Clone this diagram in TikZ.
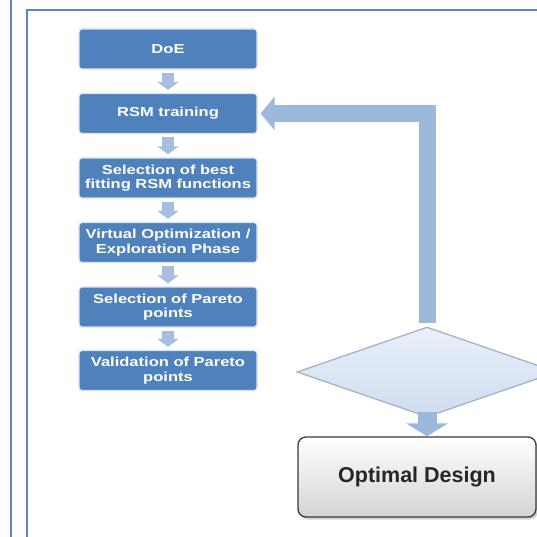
\documentclass[tikz,border=0pt]{standalone}
\usepackage{fontspec}
\setmainfont{Liberation Sans}
\newfontfamily\boxfont[FakeStretch=1.27]{Liberation Sans}
\usetikzlibrary{shapes.geometric,arrows.meta,shadows}
\definecolor{boxblue}{HTML}{4F81BD}
\definecolor{boxglow}{HTML}{DCE4EF}
\definecolor{arrblue}{HTML}{A7BFDF}
\definecolor{bigarr}{HTML}{9CB8DB}
\definecolor{frameblue}{HTML}{5E83C2}
\definecolor{diatop}{HTML}{E9F0F9}
\definecolor{diabot}{HTML}{CFDDF0}
\definecolor{diaedge}{HTML}{A5B3C7}
\definecolor{optedge}{HTML}{3A3A3A}
\definecolor{opttext}{HTML}{262626}
\begin{document}
\begin{tikzpicture}[x=1pt,y=-1pt,
  stepbox/.style={rectangle, rounded corners=3pt, fill=boxblue, draw=boxglow,
    line width=1.2pt, minimum width=178pt, minimum height=40pt, inner sep=0pt,
    align=center, text=white, font=\boxfont\bfseries\fontsize{13}{14.5}\selectfont},
  smallarr/.style={draw=arrblue, line width=12pt,
    -{Triangle[width=21pt,length=8pt]}, shorten <=3pt, shorten >=3pt},
  bigarrow/.style={draw=bigarr, line width=17pt, line join=miter,
    -{Triangle[width=33pt,length=14pt]}},
  decision/.style={diamond, minimum width=260pt, minimum height=90pt, inner sep=0pt,
    top color=diatop, bottom color=diabot, draw=diaedge, line width=1.3pt},
  optbox/.style={rectangle, rounded corners=8pt, minimum width=238pt, minimum height=80pt,
    top color=white, bottom color=black!17, draw=optedge, line width=1.3pt,
    drop shadow={shadow xshift=2pt, shadow yshift=-2.5pt, opacity=0.35},
    text=opttext, font=\bfseries\fontsize{21.5}{24}\selectfont},
  frameline/.style={draw=frameblue, line width=1.4pt}
]
\useasboundingbox (0,0) rectangle (537,537);
\clip (0,0) rectangle (537,537);

% frame lines
\draw[frameline] (11,0) -- (11,537);
\draw[frameline] (27,537) -- (27,10) -- (537,10);

% process boxes
\node[stepbox] (doe)  at (168,49)    {DoE};
\node[stepbox] (rsm)  at (168,113.5) {RSM training};
\node[stepbox] (sel)  at (168,178)   {Selection of best\\fitting RSM functions};
\node[stepbox] (virt) at (168,242.5) {Virtual Optimization /\\Exploration Phase};
\node[stepbox] (par)  at (168,307)   {Selection of Pareto\\points};
\node[stepbox] (val)  at (168,370.5) {Validation of Pareto\\points};

\draw[smallarr] (doe.south) -- (rsm.north);
\draw[smallarr] (rsm.south) -- (sel.north);
\draw[smallarr] (sel.south) -- (virt.north);
\draw[smallarr] (virt.south) -- (par.north);
\draw[smallarr] (par.south) -- (val.north);

% decision and result
\node[decision] (dia) at (427,372) {};
\node[optbox] (opt) at (417,477) {Optimal Design};

% feedback arrow
\draw[bigarrow, shorten <=3pt, shorten >=3pt] (dia.north) |- (rsm.east);

% down arrow
\draw[draw=bigarr, line width=19pt, -{Triangle[width=41pt,length=13pt]}]
  ([yshift=6pt]dia.south) -- (dia.south |- opt.north);
\end{tikzpicture}
\end{document}
